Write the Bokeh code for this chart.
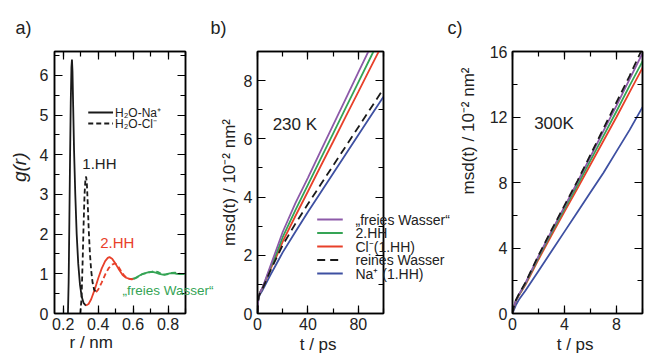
import math
from bokeh.plotting import figure
from bokeh.layouts import row, column
from bokeh.models import (Range1d, FixedTicker, LinearAxis, Label, Title, Arrow, AllLabels)
from bokeh.embed import file_html
from bokeh.resources import INLINE

# ---------------- data ----------------
# panel a: g(r); H2O-Na+ (solid): first shell (black), second shell (red), bulk (green)
na_r_1 = [0.227, 0.231, 0.235, 0.239, 0.243, 0.247, 0.250, 0.253, 0.257, 0.262, 0.269, 0.277, 0.286, 0.296, 0.306, 0.317, 0.330]
na_g_1 = [0.0, 0.8, 2.3, 3.9, 5.3, 6.2, 6.4, 6.1, 5.2, 4.1, 3.0, 2.0, 1.25, 0.72, 0.42, 0.26, 0.2]
na_r_2 = [0.330, 0.345, 0.36, 0.38, 0.40, 0.42, 0.44, 0.455, 0.465, 0.48, 0.50, 0.52, 0.54, 0.56, 0.58, 0.595]
na_g_2 = [0.2, 0.24, 0.36, 0.6, 0.88, 1.13, 1.32, 1.4, 1.42, 1.38, 1.25, 1.1, 0.97, 0.9, 0.87, 0.87]
na_r_3 = [0.595, 0.61, 0.63, 0.65, 0.67, 0.69, 0.71, 0.73, 0.75, 0.77, 0.79, 0.81, 0.83, 0.85, 0.87, 0.90]
na_g_3 = [0.87, 0.89, 0.94, 0.99, 1.02, 1.04, 1.05, 1.03, 1.0, 0.98, 0.99, 1.01, 1.02, 1.0, 0.99, 1.0]
# H2O-Cl- (dashed)
cl_r_1 = [0.298, 0.305, 0.311, 0.317, 0.322, 0.327, 0.331, 0.335, 0.340, 0.346, 0.353, 0.360, 0.368, 0.377, 0.388]
cl_g_1 = [0.0, 0.4, 1.3, 2.3, 3.0, 3.38, 3.45, 3.3, 2.8, 2.1, 1.5, 1.08, 0.78, 0.6, 0.54]
cl_r_2 = [0.388, 0.40, 0.42, 0.44, 0.46, 0.48, 0.495, 0.51, 0.53, 0.55, 0.57, 0.59, 0.605]
cl_g_2 = [0.54, 0.6, 0.78, 0.98, 1.14, 1.23, 1.26, 1.22, 1.08, 0.95, 0.88, 0.86, 0.87]
cl_r_3 = [0.605, 0.62, 0.64, 0.66, 0.68, 0.70, 0.72, 0.74, 0.76, 0.78, 0.80, 0.82, 0.84, 0.86, 0.88, 0.90]
cl_g_3 = [0.87, 0.9, 0.96, 1.0, 1.02, 1.04, 1.07, 1.05, 1.0, 0.97, 0.99, 1.02, 1.03, 1.01, 0.99, 1.0]

# panel b: msd(t) at 230 K
t_b = [0, 0.5, 1, 2, 4, 6, 10, 15, 20, 30, 40, 50, 60, 70, 80, 90, 100]
frei_b = [0, 0.45, 0.6, 0.72, 0.9, 1.12, 1.6, 2.2, 2.8, 3.78, 4.66, 5.57, 6.47, 7.37, 8.28, 9.18, 10.08]
hh2_b = [0, 0.45, 0.6, 0.72, 0.88, 1.1, 1.55, 2.05, 2.62, 3.54, 4.42, 5.3, 6.18, 7.06, 7.94, 8.82, 9.7]
cl_b = [0, 0.45, 0.6, 0.72, 0.87, 1.08, 1.5, 1.95, 2.47, 3.34, 4.19, 5.05, 5.9, 6.76, 7.61, 8.47, 9.32]
rein_b = [0, 0.43, 0.58, 0.7, 0.86, 1.05, 1.45, 1.9, 2.35, 3.08, 3.76, 4.42, 5.08, 5.74, 6.4, 7.06, 7.72]
na_b = [0, 0.4, 0.55, 0.66, 0.8, 0.97, 1.3, 1.7, 2.1, 2.8, 3.49, 4.15, 4.81, 5.47, 6.13, 6.79, 7.45]

# panel c: msd(t) at 300 K
t_c = [0, 0.1, 0.25, 0.5, 1, 2, 3, 4, 5, 6, 7, 8, 9, 10]
rein_c = [0, 0.4, 0.8, 1.2, 1.9, 3.55, 5.1, 6.6, 8.1, 9.7, 11.3, 12.9, 14.5, 16.2]
frei_c = [0, 0.38, 0.78, 1.18, 1.87, 3.5, 5.03, 6.53, 8.03, 9.58, 11.15, 12.7, 14.3, 15.9]
hh2_c = [0, 0.37, 0.76, 1.15, 1.82, 3.42, 4.92, 6.4, 7.85, 9.35, 10.85, 12.35, 13.9, 15.4]
cl_c = [0, 0.36, 0.74, 1.12, 1.75, 3.3, 4.78, 6.22, 7.65, 9.1, 10.55, 12.0, 13.5, 15.0]
na_c = [0, 0.2, 0.5, 0.85, 1.4, 2.6, 3.8, 5.0, 6.2, 7.4, 8.6, 9.9, 11.2, 12.6]

legend_b_labels = ["\u201efreies Wasser\u201c", "2.HH", "Cl\u207b(1.HH)", "reines Wasser", "Na\u207a (1.HH)"]
legend_a_labels = ["H\u2082O-Na\u207a", "H\u2082O-Cl\u207b"]
msd_label = "msd(t) / 10\u207b\u00b2 nm\u00b2"

# ticks
a_xticks = [0.2, 0.4, 0.6, 0.8]
a_xminor = [0.2, 0.3, 0.4, 0.5, 0.6, 0.7, 0.8, 0.9]
a_yticks = [0, 1, 2, 3, 4, 5, 6]
a_yminor = [0, 0.5, 1, 1.5, 2, 2.5, 3, 3.5, 4, 4.5, 5, 5.5, 6, 6.5]
b_xticks = [0, 40, 80]
b_xminor = [0, 20, 40, 60, 80, 100]
b_yticks = [0, 2, 4, 6, 8]
b_yminor = [0, 1, 2, 3, 4, 5, 6, 7, 8, 9]
c_xticks = [0, 4, 8]
c_xminor = [0, 2, 4, 6, 8, 10]
c_yticks = [0, 4, 8, 12, 16]
c_yminor = [0, 2, 4, 6, 8, 10, 12, 14, 16]

# ---------------- style / layout ----------------
FONT = "Liberation Sans"
TXT = "#222222"
BLACK = "#1a1a1a"
RED = "#e8402a"
GREEN = "#35a455"
PURPLE = "#8d5aa9"
BLUE = "#3e50a2"
LW = 1.8

STRIP_H = 40            # strip with the panel letters
ROW_H = 318
FR_TOP, FR_BOT = 51, 313  # frame top / bottom in page pixels
FH = FR_BOT - FR_TOP
WA, WB, WC = 216, 236, 193


def make_fig(width, xr, yr, bl, br):
    p = figure(width=width, height=ROW_H, x_range=Range1d(*xr), y_range=Range1d(*yr),
               output_backend="svg", toolbar_location=None,
               min_border_left=bl, min_border_right=br,
               min_border_top=FR_TOP - STRIP_H, min_border_bottom=ROW_H - (FR_TOP - STRIP_H) - FH)
    p.xgrid.visible = False
    p.ygrid.visible = False
    p.outline_line_color = "black"
    p.outline_line_width = 1.5
    p.outline_line_alpha = 1.0
    return p


def style_axis(ax, ticks, minor, standoff=5):
    ax.ticker = FixedTicker(ticks=ticks, minor_ticks=minor)
    ax.major_tick_in = 8
    ax.major_tick_out = 0
    ax.minor_tick_in = 5
    ax.minor_tick_out = 0
    ax.major_tick_line_width = 1.2
    ax.minor_tick_line_width = 1.2
    ax.major_tick_line_color = "black"
    ax.minor_tick_line_color = "black"
    ax.axis_line_width = 1.5
    ax.axis_line_color = "black"
    ax.major_label_text_font = FONT
    ax.major_label_text_font_size = "16px"
    ax.major_label_text_color = TXT
    ax.major_label_standoff = standoff
    ax.axis_label_text_font = FONT
    ax.axis_label_text_font_size = "17px"
    ax.axis_label_text_font_style = "normal"
    ax.axis_label_text_color = TXT


def mirror(p, xt, xm, yt, ym):
    for side, t, m in (("above", xt, xm), ("right", yt, ym)):
        ax = LinearAxis()
        style_axis(ax, t, m, standoff=0)
        ax.major_label_overrides = {v: "" for v in t}
        p.add_layout(ax, side)


def text_axis(p, positions, texts, standoff, size, color):
    # texts that start inside the frame and run into the right border
    ax = LinearAxis(ticker=FixedTicker(ticks=positions, minor_ticks=[]))
    ax.major_label_overrides = dict(zip(positions, texts))
    ax.major_tick_in = 0
    ax.major_tick_out = 0
    ax.minor_tick_in = 0
    ax.minor_tick_out = 0
    ax.major_tick_line_color = None
    ax.minor_tick_line_color = None
    ax.axis_line_color = None
    ax.major_label_standoff = standoff
    ax.major_label_text_font = FONT
    ax.major_label_text_font_size = size
    ax.major_label_text_color = color
    ax.major_label_policy = AllLabels()
    p.add_layout(ax, "right")


def side_title(p, text, side, size, style="normal", **kw):
    p.add_layout(Title(text=text, text_font=FONT, text_font_size=size, text_font_style=style,
                       text_color=TXT, **kw), side)


def lab(p, x, y, text, size, color=TXT, align="left"):
    p.add_layout(Label(x=x, y=y, text=text, text_font=FONT, text_font_size=size,
                       text_color=color, text_align=align, text_baseline="middle"))


def key(p, f, x0, x1, y, color, dash):
    xs, ys = f(x0, y)
    xe, _ = f(x1, y)
    p.add_layout(Arrow(end=None, x_start=xs, y_start=ys, x_end=xe, y_end=ys,
                       line_color=color, line_width=LW, line_dash=dash))


def conv(fx0, xmin, sx, ymin, sy):
    # page pixel -> data coordinates (for annotation placement only)
    def f(cx, cy):
        return xmin + (cx - fx0) / sx, ymin + (FR_BOT - cy) / sy
    return f


# ---------------- strip with panel letters ----------------
strip = figure(width=WA + WB + WC, height=STRIP_H, x_range=Range1d(0, WA + WB + WC),
               y_range=Range1d(0, STRIP_H), x_axis_location=None, y_axis_location=None,
               output_backend="svg", toolbar_location=None, min_border=0)
strip.outline_line_color = None
strip.xgrid.visible = False
strip.ygrid.visible = False
for txt, px in (("a)", 15), ("b)", 210), ("c)", 447)):
    lab(strip, px, STRIP_H - 27, txt, "18px")

# ---------------- panel a ----------------
A_L, A_R = 54, 186
fa = make_fig(WA, (0.15, 0.90), (0, 6.6), A_L, WA - A_R)
style_axis(fa.xaxis[0], a_xticks, a_xminor, standoff=4)
style_axis(fa.yaxis[0], a_yticks, a_yminor, standoff=6)
mirror(fa, a_xticks, a_xminor, a_yticks, a_yminor)
side_title(fa, "g(r)", "left", "19px", style="italic", align="right",
           vertical_align="top", standoff=9, offset=101)
side_title(fa, "r / nm", "below", "17px", align="left", vertical_align="top",
           offset=15, standoff=0)

fa.line(na_r_1, na_g_1, line_color=BLACK, line_width=LW)
fa.line(na_r_2, na_g_2, line_color=RED, line_width=LW)
fa.line(na_r_3, na_g_3, line_color=GREEN, line_width=LW)
fa.line(cl_r_1, cl_g_1, line_color=BLACK, line_width=LW, line_dash="5 3")
fa.line(cl_r_2, cl_g_2, line_color=RED, line_width=LW, line_dash="5 3")
fa.line(cl_r_3, cl_g_3, line_color=GREEN, line_width=LW, line_dash="5 3")

ca = conv(A_L, 0.15, (A_R - A_L) / 0.75, 0, FH / 6.6)
for ry, txt, dash in ((112, legend_a_labels[0], "solid"), (123, legend_a_labels[1], "5 3")):
    key(fa, ca, 88, 113, ry, BLACK, dash)
    lab(fa, *ca(115, ry), txt, "12px")
lab(fa, *ca(82, 163), "1.HH", "15px")
lab(fa, *ca(100, 242), "2.HH", "15px", color=RED)
text_axis(fa, [ca(0, 290)[1]], ["\u201efreies Wasser\u201c"], 123 - A_R, "13.5px", GREEN)

# ---------------- panel b ----------------
B_L, B_R = 252, 385
fb = make_fig(WB, (0, 100), (0, 9), B_L - WA, WA + WB - B_R)
style_axis(fb.xaxis[0], b_xticks, b_xminor, standoff=4)
style_axis(fb.yaxis[0], b_yticks, b_yminor, standoff=5)
fb.xaxis[0].axis_label = "t  / ps"
fb.xaxis[0].axis_label_standoff = 2
fb.yaxis[0].axis_label = msd_label
fb.yaxis[0].axis_label_standoff = 2
mirror(fb, b_xticks, b_xminor, b_yticks, b_yminor)

fb.line(t_b, na_b, line_color=BLUE, line_width=LW)
fb.line(t_b, cl_b, line_color=RED, line_width=LW)
fb.line(t_b, hh2_b, line_color=GREEN, line_width=LW)
fb.line(t_b, frei_b, line_color=PURPLE, line_width=LW)
fb.line(t_b, rein_b, line_color=BLACK, line_width=LW, line_dash="8 5")

cb = conv(B_L, 0, (B_R - B_L) / 100, 0, FH / 9)
rows_px = [219, 232.5, 246, 259.5, 273]
key_style = [(PURPLE, "solid"), (GREEN, "solid"), (RED, "solid"), (BLACK, "8 5"), (BLUE, "solid")]
for ry, (col, dash) in zip(rows_px, key_style):
    key(fb, cb, 315, 342, ry, col, dash)
text_axis(fb, [cb(0, ry)[1] for ry in rows_px], legend_b_labels, 357 - B_R, "14px", TXT)
lab(fb, *cb(268, 124), "230 K", "17px")

# ---------------- panel c ----------------
C_L, C_R = 510, 642
fc = make_fig(WC, (0, 10), (0, 16), C_L - WA - WB, WA + WB + WC - C_R)
style_axis(fc.xaxis[0], c_xticks, c_xminor, standoff=4)
style_axis(fc.yaxis[0], c_yticks, c_yminor, standoff=5)
fc.xaxis[0].axis_label = "t  / ps"
fc.xaxis[0].axis_label_standoff = 2
mirror(fc, c_xticks, c_xminor, c_yticks, c_yminor)
side_title(fc, msd_label, "left", "17px", align="right", vertical_align="top",
           standoff=13, offset=16)

fc.line(t_c, na_c, line_color=BLUE, line_width=LW)
fc.line(t_c, cl_c, line_color=RED, line_width=LW)
fc.line(t_c, hh2_c, line_color=GREEN, line_width=LW)
fc.line(t_c, frei_c, line_color=PURPLE, line_width=LW)
fc.line(t_c, rein_c, line_color=BLACK, line_width=LW, line_dash="8 5")

cc = conv(C_L, 0, (C_R - C_L) / 10, 0, FH / 16)
lab(fc, *cc(532, 123), "300K", "17px")

layout = column(strip, row(fa, fb, fc))
open("out.html", "w").write(file_html(layout, INLINE))
